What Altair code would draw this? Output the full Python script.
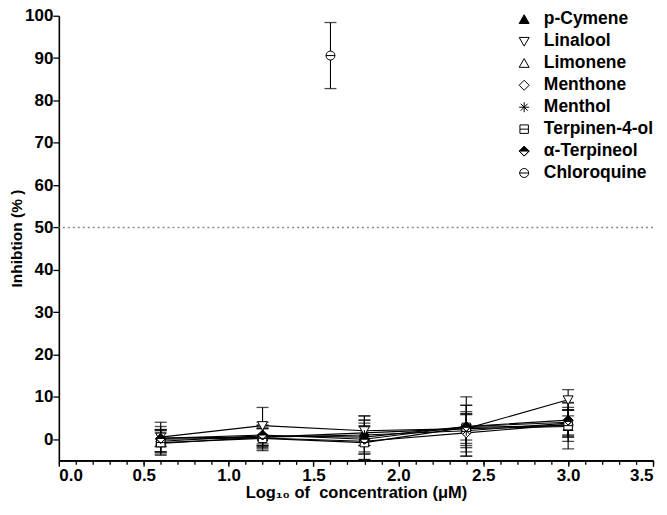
import altair as alt
import pandas as pd

series = ["p-Cymene", "Linalool", "Limonene", "Menthone", "Menthol",
          "Terpinen-4-ol", "α-Terpineol", "Chloroquine"]
log_conc = [0.6, 1.2, 1.8, 2.4, 3.0]

means = {
    "p-Cymene":      [0.3, 0.5, 1.5, 2.5, 3.0],
    "Linalool":      [0.5, 3.2, 2.0, 2.5, 9.3],
    "Limonene":      [-0.5, 0.8, 0.5, 3.0, 4.0],
    "Menthone":      [0.0, 0.3, -0.5, 1.5, 3.5],
    "Menthol":       [-1.0, 0.5, 1.0, 2.0, 3.8],
    "Terpinen-4-ol": [-0.8, 0.2, -0.8, 2.8, 3.2],
    "α-Terpineol":   [0.2, 1.0, 0.0, 3.0, 4.5],
}
sds = {
    "p-Cymene":      [2.0, 2.0, 3.0, 3.5, 2.5],
    "Linalool":      [3.5, 4.3, 3.5, 4.0, 2.4],
    "Limonene":      [2.5, 2.5, 4.0, 5.0, 3.0],
    "Menthone":      [3.0, 3.0, 4.3, 4.5, 4.0],
    "Menthol":       [2.5, 2.0, 4.5, 6.0, 3.0],
    "Terpinen-4-ol": [3.0, 2.5, 4.0, 3.0, 5.5],
    "α-Terpineol":   [2.0, 3.0, 3.0, 7.0, 4.0],
}
chloroquine_x = [1.6]
chloroquine_mean = [90.6]
chloroquine_sd = [7.8]
threshold = [50]

shapes = [
    "M0,-0.95L1,0.8L-1,0.8Z",
    "M0,0.95L1,-0.8L-1,-0.8Z",
    "M0,-0.95L1,0.8L-1,0.8Z",
    "M0,-1L1,0L0,1L-1,0Z",
    "M-1,0H1M0,-1V1M-0.7,-0.7L0.7,0.7M-0.7,0.7L0.7,-0.7",
    "M-0.85,-0.85H0.85V0.85H-0.85ZM-0.85,0H0.85",
    "M-1,0L0,-1L1,0ZM1,0L0,1L-1,0L0,1Z",
    "M-0.9,0A0.9,0.9 0 1,0 0.9,0A0.9,0.9 0 1,0 -0.9,0ZM-0.9,0H0.9",
]
fills = ["black", "white", "white", "white", "black", "white", "black", "white"]
strokes = ["black"] * len(series)

rows = []
for s in series[:-1]:
    for x, m, sd in zip(log_conc, means[s], sds[s]):
        rows.append({"series": s, "x": x, "y": m, "lo": m - sd, "hi": m + sd})
for x, m, sd in zip(chloroquine_x, chloroquine_mean, chloroquine_sd):
    rows.append({"series": "Chloroquine", "x": x, "y": m, "lo": m - sd, "hi": m + sd})
df = pd.DataFrame(rows)

xscale = alt.Scale(domain=[0, 3.5], nice=False, zero=False)
yscale = alt.Scale(domain=[-5, 100], nice=False, zero=False)

FONT = "Liberation Sans"

major_x_axis = alt.Axis(orient="bottom", values=[0, 0.5, 1.0, 1.5, 2.0, 2.5, 3.0, 3.5],
                        format=".1f", tickSize=6, labelPadding=1, grid=False,
                        labelFontSize=17,
                        title="Log₁₀ of\u00a0 concentration (μM)", titlePadding=1,
                        titleFontSize=16.5)
minor_x_axis = alt.Axis(orient="bottom", values=[round(i * 0.1, 1) for i in range(36)],
                        labels=False, tickSize=4, grid=False, title=None)
y_axis = alt.Axis(values=list(range(0, 101, 10)), tickSize=6, labelPadding=0,
                  labelFontSize=17,
                  grid=False, title="Inhibtion (% )", titlePadding=0, titleFontSize=15.5)


def legend_cfg():
    return alt.Legend(orient="none", legendX=458, legendY=-5,
                      symbolStrokeColor="black", symbolStrokeWidth=1)


base = alt.Chart(df)

thresh_rule = alt.Chart(pd.DataFrame({"t": threshold})).mark_rule(
    color="#8a8a8a", strokeDash=[2, 3], strokeWidth=1.5
).encode(y=alt.Y("t:Q", scale=yscale, axis=None))

lines = base.transform_filter(alt.datum.series != "Chloroquine").mark_line(
    color="black", strokeWidth=1.1
).encode(
    x=alt.X("x:Q", scale=xscale, axis=minor_x_axis),
    y=alt.Y("y:Q", scale=yscale, axis=None),
    detail="series:N",
)

err = base.mark_rule(color="black", strokeWidth=1.1).encode(
    x=alt.X("x:Q", scale=xscale, axis=None),
    y=alt.Y("lo:Q", scale=yscale, axis=None),
    y2="hi:Q",
)
cap_lo = base.mark_tick(color="black", orient="horizontal", size=12, thickness=1.3).encode(
    x=alt.X("x:Q", scale=xscale, axis=None),
    y=alt.Y("lo:Q", scale=yscale, axis=None),
)
cap_hi = base.mark_tick(color="black", orient="horizontal", size=12, thickness=1.3).encode(
    x=alt.X("x:Q", scale=xscale, axis=None),
    y=alt.Y("hi:Q", scale=yscale, axis=None),
)

points = base.mark_point(filled=True, strokeWidth=1, size=100, opacity=1).encode(
    x=alt.X("x:Q", scale=xscale, axis=major_x_axis),
    y=alt.Y("y:Q", scale=yscale, axis=y_axis),
    shape=alt.Shape("series:N", scale=alt.Scale(domain=series, range=shapes), title=None,
                    legend=legend_cfg()),
    fill=alt.Fill("series:N", scale=alt.Scale(domain=series, range=fills), title=None,
                  legend=legend_cfg()),
    stroke=alt.Stroke("series:N", scale=alt.Scale(domain=series, range=strokes), title=None,
                      legend=legend_cfg()),
)

chart = alt.layer(thresh_rule, lines, err, cap_lo, cap_hi, points).resolve_axis(
    x="independent", y="independent"
).properties(
    width=596, height=446,
    autosize=alt.AutoSizeParams(type="none"),
    padding={"left": 51, "top": 7, "right": 6, "bottom": 46},
).configure_view(stroke=None).configure_axis(
    domainColor="black", tickColor="black", domainWidth=1.6, tickWidth=1.3,
    labelFont=FONT, labelFontWeight="bold", labelColor="black",
    titleFont=FONT, titleFontWeight="bold", titleColor="black",
).configure_legend(
    labelFont=FONT, labelFontSize=17.5, labelFontWeight="bold", labelColor="black",
    symbolSize=100, rowPadding=3, labelOffset=11, padding=0,
)

chart.save("out.html", embed_options={"renderer": "svg", "actions": False})
